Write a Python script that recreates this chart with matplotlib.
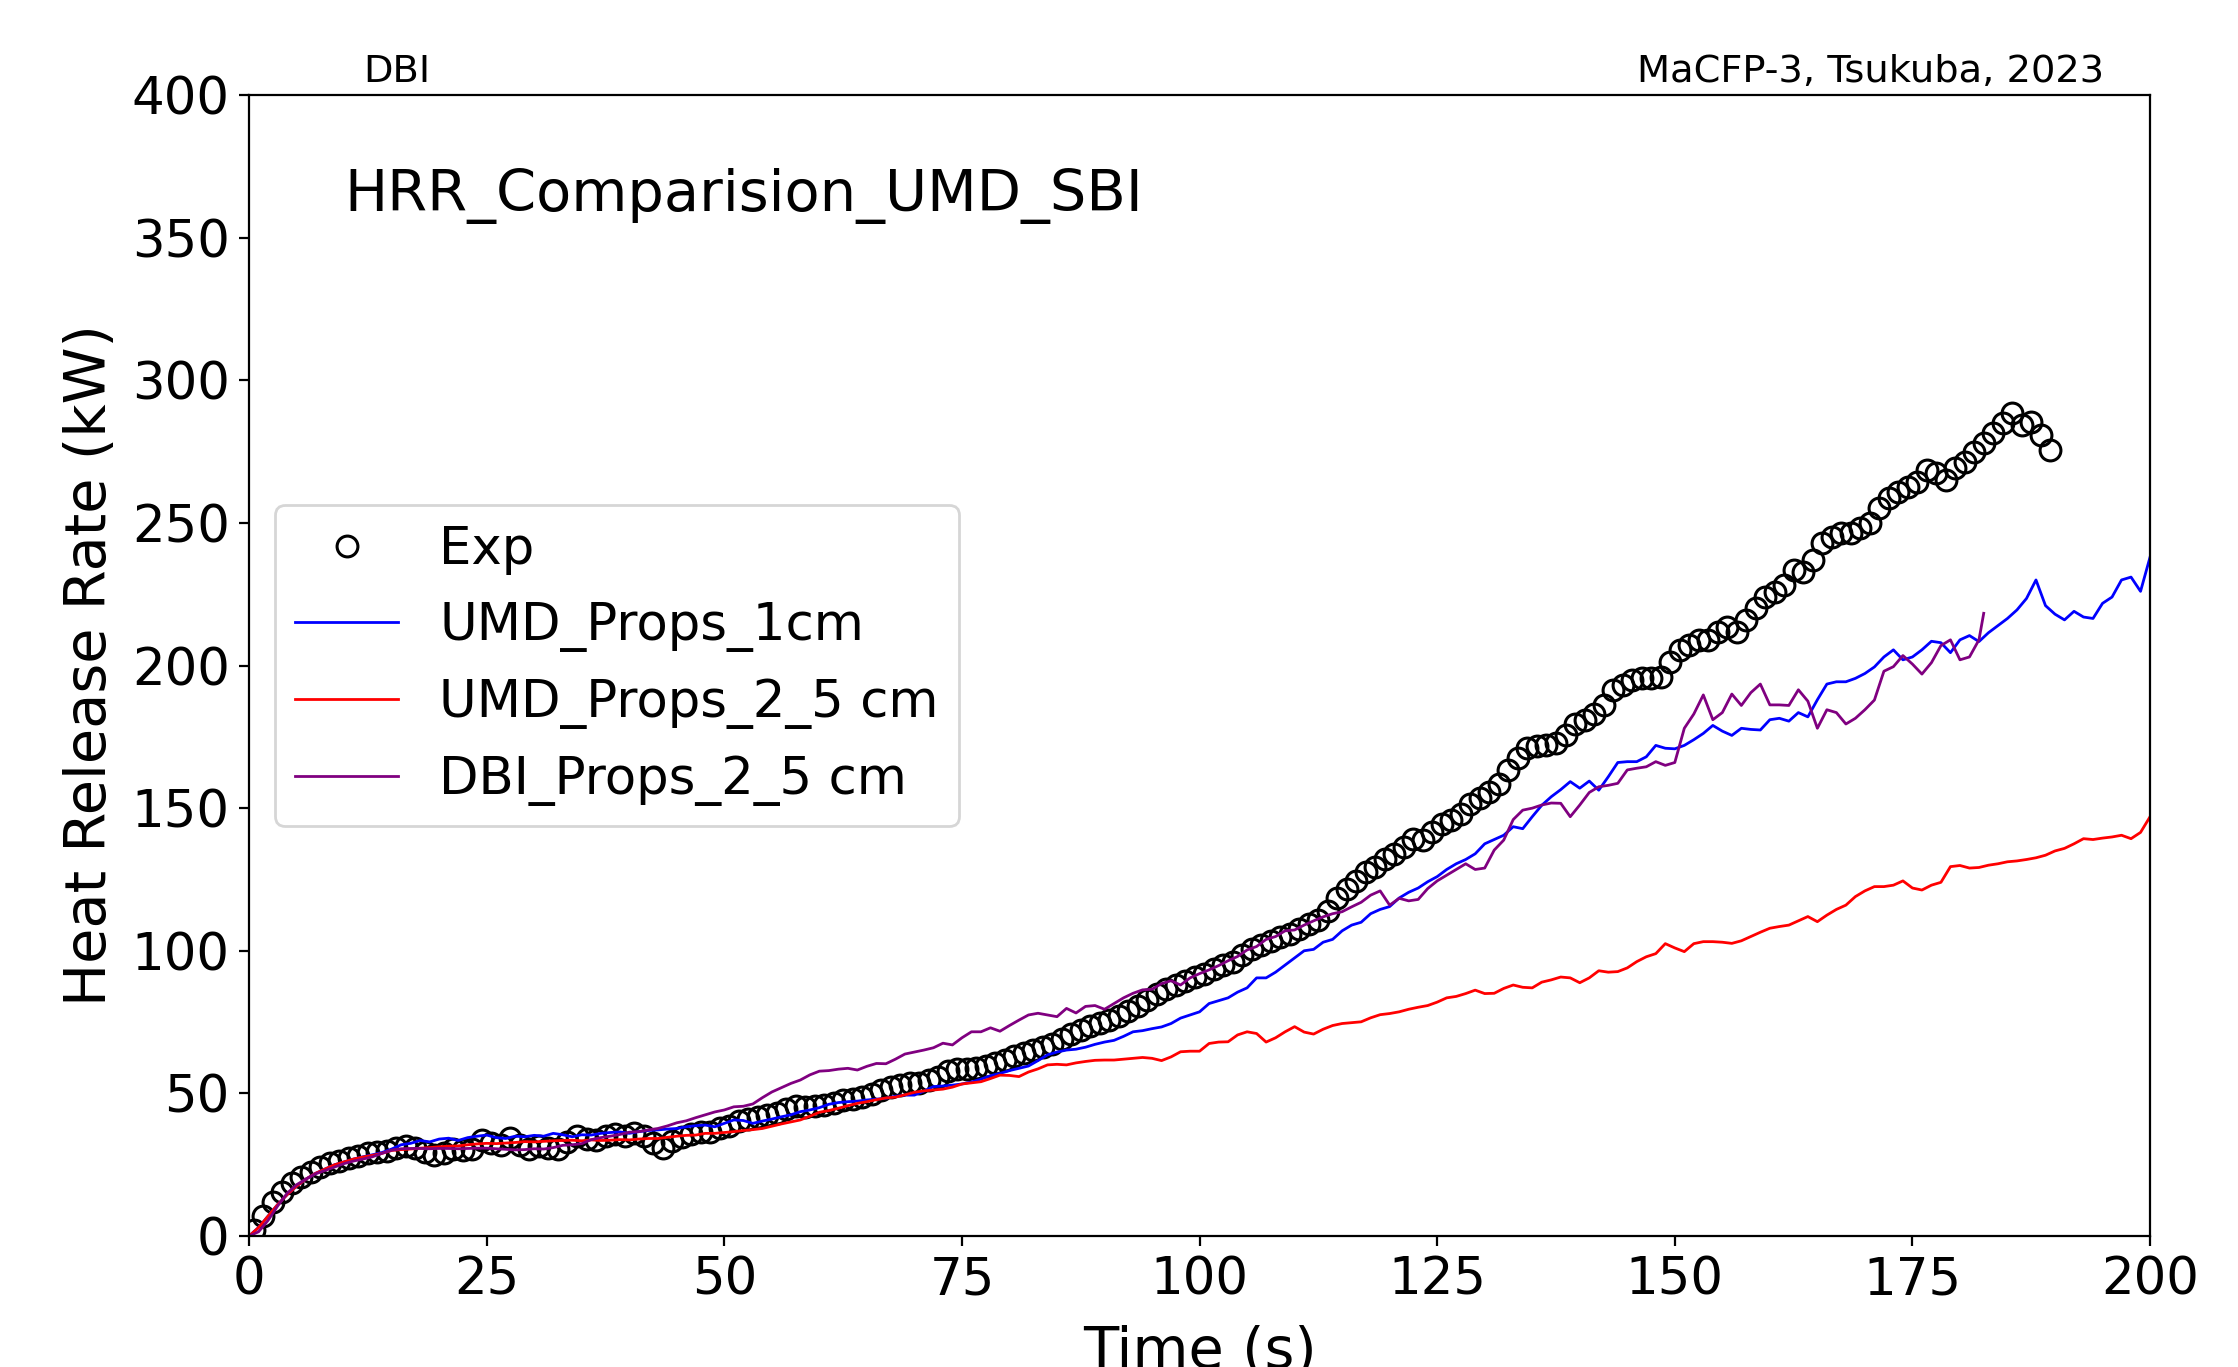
import numpy as np
import matplotlib
matplotlib.use('Agg')
import matplotlib.pyplot as plt

# experiment, one point per second (t = 0.5 ... 189.5)
exp_time = np.arange(0.5, 190.0, 1.0)
exp_hrr = [2, 7, 12, 15.5, 18.5, 20.8, 22.4, 24.3, 25.7, 26.4,
           27.3, 28.2, 29, 29.3, 29.8, 30.8, 31.6, 31, 29.6, 28.3,
           29, 30.4, 30.2, 30.5, 33.6, 32.5, 32, 34.2, 32, 30.5,
           31.7, 31, 30.4, 33, 35, 34, 33.8, 35, 35.8, 35.2,
           36, 35.2, 32.5, 31, 33.4, 34.8, 35.7, 36.4, 36.5, 38,
           38.5, 40.3, 41.2, 41.8, 42.4, 43.3, 44.5, 45.5, 45.4, 45.7,
           46.1, 46.8, 47.7, 48, 48.9, 49.8, 51.3, 52.4, 52.9, 53.5,
           53.6, 54.6, 55.7, 58, 58.5, 58.4, 59, 59.6, 60.7, 61.8,
           63, 64, 65.2, 66.3, 67.4, 69, 70.8, 72.4, 73.7, 74.8,
           75.8, 77.2, 79, 80.6, 82.6, 84.8, 86.5, 88, 89.5, 90.8,
           92, 93.6, 95, 96.2, 98.5, 100.8, 102, 103.4, 105, 106,
           107.7, 109.3, 110.8, 114, 118.5, 121.5, 124.5, 127.5, 129.3, 132,
           134, 136.5, 139.2, 139, 141.5, 144.5, 146, 148, 151.3, 153.6,
           155.5, 158.4, 163.5, 167.5, 171, 171.8, 172, 173, 175.5, 179.5,
           181, 183, 186, 191.4, 193.2, 194.9, 195.5, 195.5, 196.1, 201.3,
           205.4, 207.2, 209, 209, 211.9, 213.6, 211.9, 216, 220.1, 224.1,
           225.9, 228.2, 233.5, 232.9, 237, 242.8, 245.2, 246.3, 246.3, 248.1,
           249.8, 255.1, 258.6, 261, 262.7, 264.5, 268.5, 267.4, 265, 269.1,
           271.5, 275, 277.9, 281.4, 284.9, 288.4, 284.3, 285.5, 280.8, 275.6]

# simulations, one value per second
sim_time = np.arange(0, 201)
umd_1cm = [0, 3, 7, 11, 14.5, 17.5, 20, 22, 23.5, 25,
           26, 27, 27.8, 28.5, 29.3, 30.5, 32, 32.5, 33.5, 33,
           34, 34.3, 33.5, 34.5, 35, 35.4, 34.5, 34.2, 35, 34.8,
           35.3, 35, 36, 35.5, 34.8, 35.5, 35.4, 36, 36.3, 36.5,
           36, 36.6, 37, 37.2, 37.5, 37.7, 38.3, 38.7, 38.9, 38.3,
           39.5, 40.7, 40.5, 39.5, 40.3, 41, 41.8, 42.5, 43.6, 44.2,
           45, 46.2, 46.8, 47.1, 47.3, 47.7, 48, 48.3, 49, 49.4,
           49.4, 50.8, 52.4, 52.6, 52.9, 53.3, 54, 55, 56.2, 57,
           58, 58.8, 59.6, 61.5, 63.5, 64.5, 65.2, 65.5, 66.2, 67.2,
           68, 68.6, 70, 71.6, 72, 72.7, 73.3, 74.5, 76.4, 77.5,
           78.6, 81.5, 82.5, 83.5, 85.5, 87, 90.5, 90.5, 92.5, 95,
           97.5, 100, 100.5, 103, 104, 107, 109, 110, 113, 114.5,
           115.5, 118.5, 120.5, 122, 124.2, 126, 128.5, 130.5, 132, 134,
           137.5, 139, 140.5, 143.5, 142.8, 147, 151, 154, 156.5, 159.3,
           157, 159.5, 156.3, 161, 166, 166.3, 166.3, 168, 172, 171,
           170.8, 172, 174, 176.2, 179, 177, 175.5, 178, 177.6, 177.4,
           181, 181.5, 180.5, 183.5, 182, 188, 193.5, 194.3, 194.3, 195.5,
           197.2, 199.5, 203, 205.5, 202, 203, 205.5, 208.5, 208, 204.5,
           209, 210.5, 208.4, 211.5, 214, 216.5, 219.5, 223.5, 230, 221,
           218, 216, 219, 217, 216.5, 221.8, 224, 230, 231, 226,
           238]
umd_25cm = [0, 3, 7, 11, 14.5, 17.5, 20, 22, 23.5, 25,
            26, 27, 27.7, 28.3, 29, 30, 30.3, 30.5, 30.8, 31,
            31.3, 31.5, 31.6, 32, 32.3, 32.5, 32.4, 32.6, 32.8, 33.1,
            33, 33.2, 33.4, 33.5, 33.6, 33.4, 33.7, 33.5, 33.6, 33.8,
            33.7, 34, 34.2, 34.2, 34.6, 35, 35.3, 35.4, 36, 36,
            36.3, 36.6, 37, 37.3, 37.7, 38.5, 39.3, 40, 40.7, 42,
            43.4, 44, 44.8, 45.7, 46.5, 47.1, 47.8, 48.4, 48.7, 49.5,
            50.4, 50.9, 51.2, 51.5, 52.2, 53.3, 53.7, 54.1, 55.2, 56.4,
            56.3, 55.9, 57.5, 58.6, 60, 60.2, 60, 60.7, 61.2, 61.6,
            61.7, 61.7, 62, 62.3, 62.6, 62.3, 61.5, 62.8, 64.6, 64.8,
            64.8, 67.5, 68, 68.1, 70.5, 71.6, 71, 68, 69.5, 71.6,
            73.4, 71.5, 70.8, 72.5, 73.8, 74.5, 74.8, 75.1, 76.5, 77.6,
            78, 78.6, 79.5, 80.2, 80.8, 82, 83.5, 84, 85, 86.2,
            85, 85.1, 86.8, 88, 87.2, 87, 89, 89.8, 90.8, 90.5,
            88.8, 90.5, 93, 92.5, 92.7, 94, 96.2, 97.9, 99, 102.5,
            101, 99.7, 102.5, 103.2, 103.2, 103, 102.6, 103.5, 105, 106.5,
            107.9, 108.5, 109, 110.5, 112, 110.2, 112.5, 114.5, 116, 119,
            121, 122.5, 122.5, 123, 124.5, 122, 121.3, 123, 124, 129.5,
            129.9, 129, 129.2, 130, 130.5, 131.2, 131.5, 132, 132.6, 133.5,
            135, 135.9, 137.5, 139.3, 139, 139.5, 139.9, 140.5, 139.3, 141.5,
            147]

# DBI run stops at 182.5 s
dbi_time = np.append(np.arange(0, 183), 182.5)
dbi_25cm = [0, 1.5, 5.5, 10.5, 15, 18, 20, 21.8, 23, 24.2,
            25.4, 26.3, 27, 27.8, 29, 30.1, 30.6, 30.7, 30.7, 30.6,
            30.7, 30.7, 30.6, 30.7, 30.8, 30.8, 30.6, 30.4, 30.2, 30.3,
            30.6, 30.5, 31, 31.8, 32, 32.4, 33.8, 34.5, 35, 35.6,
            36.4, 36.6, 37.2, 37.7, 38.6, 39.7, 40.4, 41.5, 42.5, 43.5,
            44.2, 45.3, 45.5, 46.3, 48.5, 50.5, 52, 53.5, 54.7, 56.5,
            57.8, 58, 58.5, 58.8, 58.2, 59.5, 60.5, 60.4, 62, 63.8,
            64.5, 65.2, 66, 67.6, 67, 69.5, 71.6, 71.6, 73, 71.8,
            73.8, 75.7, 77.5, 78.1, 77.5, 76.9, 79.8, 78.2, 80.5, 80.8,
            79.5, 81.5, 83.5, 85.1, 86.3, 86.5, 88.5, 89.5, 88, 90.5,
            92, 93.3, 94.8, 96.5, 98, 100.3, 101.5, 104, 105, 107,
            107.3, 109, 110.5, 111.9, 113, 113.7, 115.4, 117, 119.5, 121,
            116, 118.4, 117.5, 118, 121.8, 124.5, 126.5, 128.5, 130.5, 128.5,
            129, 135.3, 138.8, 146, 149.3, 150, 151.1, 151.8, 151.7, 147,
            151.1, 155.5, 157.5, 158, 158.7, 163.4, 164, 164.5, 166.3, 165,
            166, 178, 183, 189.7, 181, 183.5, 190, 186, 190.5, 193.5,
            186.2, 186.2, 186, 191.5, 187.5, 178, 184.5, 183.5, 179.5, 181.5,
            184.5, 187.9, 198, 199.6, 203.5, 200.5, 197, 201, 207, 209,
            202, 203, 209, 218.3]

fig = plt.figure(figsize=(11.19, 6.835), dpi=200)
ax = fig.add_axes([0.1113, 0.0958, 0.8494, 0.8347])

ax.plot(exp_time, exp_hrr, 'o', ms=7.5, mfc='none', mec='k', mew=1.1, label='Exp')
ax.plot(sim_time, umd_1cm, color='blue', lw=1, label='UMD_Props_1cm')
ax.plot(sim_time, umd_25cm, color='red', lw=1, label='UMD_Props_2_5 cm')
ax.plot(dbi_time, dbi_25cm, color='purple', lw=1, label='DBI_Props_2_5 cm')

ax.set_xlim(0, 200)
ax.set_ylim(0, 400)
ax.set_xticks(np.arange(0, 201, 25))
ax.set_yticks(np.arange(0, 401, 50))
ax.tick_params(labelsize=18.5)
ax.set_xlabel('Time (s)', fontsize=20.7, labelpad=7)
ax.set_ylabel('Heat Release Rate (kW)', fontsize=20.7, labelpad=5)

# labels on top of the frame and inside
ax.text(0.06, 1.011, 'DBI', transform=ax.transAxes, fontsize=13.8, va='baseline')
ax.text(0.976, 1.011, 'MaCFP-3, Tsukuba, 2023', transform=ax.transAxes,
        fontsize=13.8, ha='right', va='baseline')
ax.text(0.05, 0.898, 'HRR_Comparision_UMD_SBI', transform=ax.transAxes,
        fontsize=20.7, va='baseline')

ax.legend(loc='center left', fontsize=18.5)

fig.savefig('out.png', dpi=200)
